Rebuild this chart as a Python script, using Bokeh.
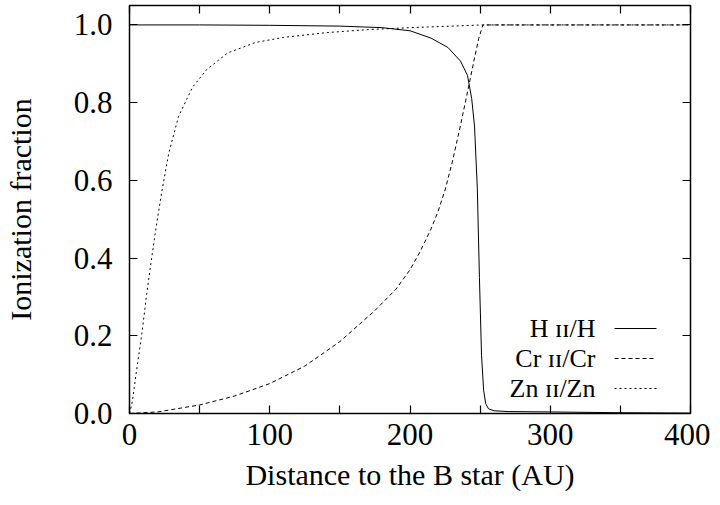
from bokeh.plotting import figure
from bokeh.models import (Range1d, FixedTicker, PrintfTickFormatter, LinearAxis,
                          Label, Arrow)
from bokeh.embed import file_html
from bokeh.resources import INLINE

# ---- data ----
h_x = [0, 50, 100, 150, 180, 200, 215, 227, 236, 241, 244, 246, 248, 249.5,
       251, 252.5, 254, 256, 260, 270, 300, 350, 400]
h_y = [1.0, 1.0, 0.999, 0.997, 0.993, 0.985, 0.966, 0.942, 0.907, 0.87, 0.81,
       0.74, 0.58, 0.35, 0.15, 0.06, 0.025, 0.012, 0.007, 0.005, 0.004, 0.002, 0.001]

cr_x = [0, 20, 50, 75, 100, 125, 150, 175, 190, 200, 207, 215, 220, 225, 230,
        235, 240, 243, 246, 249, 252, 260, 300, 400]
cr_y = [0, 0.004, 0.022, 0.045, 0.077, 0.122, 0.185, 0.265, 0.32, 0.37, 0.415,
        0.475, 0.52, 0.575, 0.645, 0.725, 0.81, 0.862, 0.915, 0.965, 1.0, 1.0,
        1.0, 1.0]

zn_x = [0, 2, 5, 9, 12, 15, 19, 23, 28, 35, 45, 55, 70, 90, 110, 140, 170,
        200, 230, 252, 260, 300, 400]
zn_y = [0, 0.03, 0.11, 0.21, 0.30, 0.38, 0.48, 0.57, 0.67, 0.765, 0.84, 0.885,
        0.928, 0.955, 0.968, 0.980, 0.988, 0.993, 0.997, 1.0, 1.0, 1.0, 1.0]

series_labels = ["H \u026a\u026a/H", "Cr \u026a\u026a/Cr", "Zn \u026a\u026a/Zn"]
x_ticks = [0, 100, 200, 300, 400]
x_minor = [50, 150, 250, 350]
y_ticks = [0.0, 0.2, 0.4, 0.6, 0.8, 1.0]

FONT = "Liberation Serif"
TICK_FS = "31px"
LABEL_FS = "30px"
LEGEND_FS = "26px"

p = figure(width=710, height=500, output_backend="svg", toolbar_location=None,
           x_range=Range1d(0, 400), y_range=Range1d(0, 1.05),
           min_border_left=128, min_border_right=20, min_border_top=5,
           min_border_bottom=87)
p.grid.visible = False
p.outline_line_color = "black"
p.outline_line_width = 1.5
p.background_fill_color = "white"
p.border_fill_color = "white"

def style_axis(ax, labels=True):
    ax.axis_line_color = None
    ax.major_tick_in = 8
    ax.major_tick_out = 0
    ax.minor_tick_in = 8
    ax.minor_tick_out = 0
    ax.major_tick_line_color = "black"
    ax.minor_tick_line_color = "black"
    ax.major_tick_line_width = 1.2
    ax.minor_tick_line_width = 1.2
    ax.major_label_text_font = FONT
    if labels:
        ax.major_label_text_color = "black"
        ax.major_label_text_font_size = TICK_FS
    else:
        ax.major_label_text_color = None
        ax.major_label_standoff = 0

xt = FixedTicker(ticks=x_ticks, minor_ticks=x_minor)
yt = FixedTicker(ticks=y_ticks, minor_ticks=[])

xa = p.xaxis[0]
xa.ticker = xt
style_axis(xa)
xa.major_label_standoff = 10
xa.axis_label = "Distance to the B star (AU)"
xa.axis_label_text_font = FONT
xa.axis_label_text_font_size = LABEL_FS
xa.axis_label_text_font_style = "normal"
xa.axis_label_text_color = "black"
xa.axis_label_standoff = 10

ya = p.yaxis[0]
ya.ticker = yt
ya.formatter = PrintfTickFormatter(format="%.1f")
style_axis(ya)
ya.major_label_standoff = 17
ya.axis_label = "Ionization fraction"
ya.axis_label_text_font = FONT
ya.axis_label_text_font_size = LABEL_FS
ya.axis_label_text_font_style = "normal"
ya.axis_label_text_color = "black"
ya.axis_label_standoff = 34

top = LinearAxis(ticker=xt)
style_axis(top, labels=False)
p.add_layout(top, "above")
right = LinearAxis(ticker=yt)
style_axis(right, labels=False)
p.add_layout(right, "right")

dashes = ["solid", "4 3", "2 3"]
for xs, ys, dash in [(h_x, h_y, dashes[0]), (cr_x, cr_y, dashes[1]), (zn_x, zn_y, dashes[2])]:
    p.line(xs, ys, line_color="black", line_width=1.0, line_dash=dash)

# manual legend (text to the left of the sample line), frame-relative screen units
row_y = [85, 55, 25]
for lab, dash, yy in zip(series_labels, dashes, row_y):
    p.add_layout(Label(x=466, y=yy, x_units="screen", y_units="screen", text=lab,
                       text_align="right", text_baseline="middle", text_font=FONT,
                       text_font_size=LEGEND_FS, text_color="black"))
    p.add_layout(Arrow(x_start=485, y_start=yy, x_end=527, y_end=yy,
                       start_units="screen", end_units="screen", end=None,
                       line_color="black", line_width=1.0, line_dash=dash))

open("out.html", "w").write(file_html(p, INLINE))
